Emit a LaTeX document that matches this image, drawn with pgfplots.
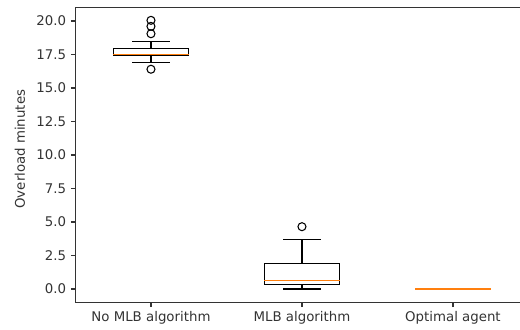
\documentclass[border=0pt]{standalone}
\usepackage{fontspec}
\setmainfont{DejaVu Sans}
\usepackage{pgfplots}
\usepgfplotslibrary{statistics}
\pgfplotsset{compat=1.18}
\definecolor{mplorange}{HTML}{FF7F0E}
\definecolor{axisgray}{HTML}{333333}
\begin{document}
\begin{tikzpicture}
\useasboundingbox (-56.6pt,-19.95pt) rectangle (333.4pt,226.8pt);
\begin{axis}[
  at={(0pt,0pt)}, anchor=south west,
  scale only axis, width=339.75pt, height=221.1pt,
  xmin=0.5, xmax=3.5, ymin=-1, ymax=21,
  xtick={1,2,3},
  xticklabels={No MLB algorithm, MLB algorithm, Optimal agent},
  ytick={0,2.5,5,7.5,10,12.5,15,17.5,20},
  yticklabel style={/pgf/number format/.cd, fixed, fixed zerofill, precision=1},
  /pgf/number format/assume math mode=true,
  tick align=outside, tick pos=left,
  major tick length=3.5pt,
  every tick/.style={axisgray, line width=0.8pt},
  axis line style={axisgray, line width=0.8pt},
  tick label style={font=\fontsize{10}{12}\selectfont, text=axisgray},
  ylabel={Overload minutes},
  ylabel style={at={(axis description cs:0,0.52)}, anchor=center, yshift=41.6pt, font=\fontsize{10}{12}\selectfont, text=axisgray},
  boxplot/draw direction=y,
  boxplot/box extend=0.5,
  boxplot/whisker extend=0.25,
]
\addplot[draw=black, line width=1pt, mark=o, mark size=3pt, mark options={solid, draw=black, line width=0.8pt},
  boxplot prepared={draw direction=y, draw position=1, lower whisker=16.9, lower quartile=17.45, median=17.5, upper quartile=17.95, upper whisker=18.45,
  every median/.style={draw=mplorange, line width=1pt}}]
  coordinates {(0,16.4) (0,19.05) (0,19.6) (0,20.05)};
\addplot[draw=black, line width=1pt, mark=o, mark size=3pt, mark options={solid, draw=black, line width=0.8pt},
  boxplot prepared={draw direction=y, draw position=2, lower whisker=0.0, lower quartile=0.35, median=0.65, upper quartile=1.92, upper whisker=3.7,
  every median/.style={draw=mplorange, line width=1pt}}]
  coordinates {(0,4.65)};
\addplot[draw=black, line width=1pt,
  boxplot prepared={draw direction=y, draw position=3, lower whisker=0, lower quartile=0, median=0, upper quartile=0, upper whisker=0,
  every box/.style={draw=none}, every whisker/.style={draw=none},
  every median/.style={draw=mplorange, line width=1pt}}]
  coordinates {};
\end{axis}
\end{tikzpicture}
\end{document}
